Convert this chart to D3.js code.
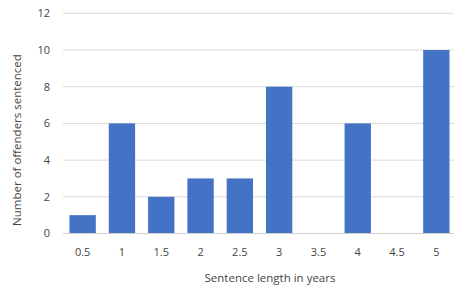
<!DOCTYPE html>
<html>
<head>
<meta charset="utf-8">
<script src="https://cdn.jsdelivr.net/npm/d3@7"></script>
<style>
  body { margin: 0; background: #fff; }
  text { font-family: "Open Sans", "Liberation Sans", sans-serif; fill: #444; }
</style>
</head>
<body>
<svg width="454" height="292"></svg>
<script>
const categories = ["0.5", "1", "1.5", "2", "2.5", "3", "3.5", "4", "4.5", "5"];
const counts = [1, 6, 2, 3, 3, 8, 0, 6, 0, 10];
const yTicks = [0, 2, 4, 6, 8, 10, 12];

const svg = d3.select("svg");
var width = +svg.attr("width");
var height = +svg.attr("height");

const data = categories.map((c, i) => ({ cat: c, value: counts[i] }));

var x = d3.scaleBand()
    .domain(categories)
    .range([63, 456])
    .paddingInner(0.33)
    .paddingOuter(0.165);

var y = d3.scaleLinear()
    .domain([0, 12])
    .range([233.5, 13.3]);

// gridlines
svg.append('g')
    .attr('class', 'grid')
    .selectAll('line')
    .data(yTicks.filter(d => d > 0))
    .enter()
    .append('line')
    .attr('x1', 63)
    .attr('x2', width)
    .attr('y1', d => y(d))
    .attr('y2', d => y(d))
    .attr('stroke', '#d9d9d9')
    .attr('stroke-width', 1);

// bars
svg.append('g')
    .attr('class', 'bars')
    .selectAll('rect')
    .data(data.filter(d => d.value > 0))
    .enter()
    .append('rect')
    .attr('x', d => x(d.cat))
    .attr('width', x.bandwidth())
    .attr('y', d => y(d.value))
    .attr('height', d => y(0) - y(d.value))
    .attr('fill', '#4472c4');

// baseline
svg.append('line')
    .attr('x1', 63)
    .attr('x2', width)
    .attr('y1', y(0))
    .attr('y2', y(0))
    .attr('stroke', '#d0d0d0')
    .attr('stroke-width', 1);

// y tick labels
svg.append('g')
    .selectAll('text')
    .data(yTicks)
    .enter().append('text')
    .attr('x', 50)
    .attr('y', d => y(d))
    .attr('dy', '0.35em')
    .attr('text-anchor', 'end')
    .attr('font-size', 11)
    .text(d => d);

// x tick labels
svg.append('g')
    .selectAll('text')
    .data(categories)
    .enter().append('text')
    .attr('x', d => x(d) + x.bandwidth() / 2)
    .attr('y', 256)
    .attr('text-anchor', 'middle')
    .attr('font-size', 11)
    .text(d => d);

// axis titles
svg.append('text')
    .attr('x', 270)
    .attr('y', 282)
    .attr('text-anchor', 'middle')
    .attr('font-size', 11.5)
    .text('Sentence length in years');

svg.append('text')
    .attr('transform', 'translate(21,140) rotate(-90)')
    .attr('text-anchor', 'middle')
    .attr('font-size', 11.5)
    .text('Number of offenders sentenced');
</script>
</body>
</html>
